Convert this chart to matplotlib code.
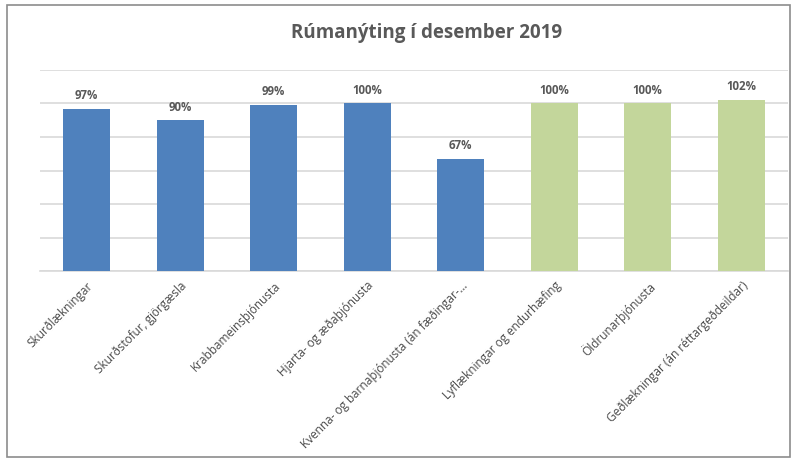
import matplotlib
matplotlib.use("Agg")
import matplotlib.pyplot as plt
from matplotlib.patches import Rectangle

categories = [
    "Skurðlækningar",
    "Skurðstofur, gjörgæsla",
    "Krabbameinsþjónusta",
    "Hjarta- og æðaþjónusta",
    "Kvenna- og barnaþjónusta (án fæðingar-…",
    "Lyflækningar og endurhæfing",
    "Öldrunarþjónusta",
    "Geðlækningar (án réttargeðdeildar)",
]
values = [97, 90, 99, 100, 67, 100, 100, 102]
groups = ["a", "a", "a", "a", "a", "b", "b", "b"]
colors_map = {"a": "#4F81BD", "b": "#C3D69B"}

plt.rcParams['font.family'] = ['Open Sans', 'DejaVu Sans']
txt = "#595959"

fig = plt.figure(figsize=(7.98, 4.59), dpi=100)
fig.patches.append(Rectangle((7/798, 1-457/459), 783/798, 452/459,
                             transform=fig.transFigure, fill=False,
                             edgecolor="#8C8C8C", linewidth=1.2))
ax = fig.add_axes([40/798, 1-271/459, 748/798, 201/459])

x = list(range(len(categories)))
ax.bar(x, values, width=0.5, color=[colors_map[g] for g in groups], zorder=3)
for xi, v in zip(x, values):
    ax.text(xi, v + 4, f"{v}%", ha="center", va="bottom", fontsize=8.3,
            fontweight="bold", color=txt)

ax.set_xlim(-0.5, len(categories) - 0.5)
ax.set_ylim(0, 120)
ax.set_yticks(range(0, 121, 20))
ax.yaxis.grid(True, color="#D9D9D9", linewidth=1.2, zorder=0)
ax.tick_params(axis="y", left=False, labelleft=False)
ax.tick_params(axis="x", length=0, pad=6)
for s in ["top", "right", "left"]:
    ax.spines[s].set_visible(False)
ax.spines["bottom"].set_color("#D9D9D9")
ax.spines["bottom"].set_linewidth(1.2)

ax.set_xticks(x)
ax.set_xticklabels(categories, rotation=45, ha="right", rotation_mode="anchor",
                   fontsize=8.5, color="#4A4A4A")

fig.text(427/798, 1-33/459, "Rúmanýting í desember 2019", ha="center", va="center",
         fontsize=13.5, fontweight="bold", color=txt)

fig.savefig("out.png", dpi=100)
